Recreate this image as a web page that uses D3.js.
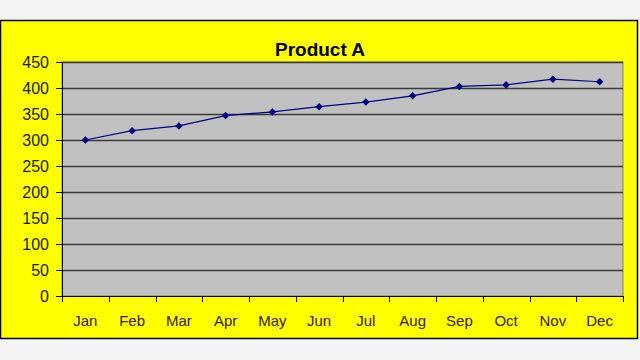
<!DOCTYPE html>
<html><head><meta charset="utf-8">
<script src="https://cdn.jsdelivr.net/npm/d3@7"></script>
<style>html,body{margin:0;padding:0;background:#f4f4f4;}</style>
</head><body>
<svg id="c" width="640" height="360"></svg>
<script>
const months = ["Jan","Feb","Mar","Apr","May","Jun","Jul","Aug","Sep","Oct","Nov","Dec"];
const values = [300,318,327,347,354,364,373,385,403,406,417,412];
const yTicks = [0,50,100,150,200,250,300,350,400,450];
const title = "Product A";

const svg = d3.select("#c");
const font = "Arial, 'Liberation Sans', sans-serif";
svg.append("rect").attr("x",0.5).attr("y",20.5).attr("width",637).attr("height",318)
  .attr("fill","#ffff00").attr("stroke","#000").attr("stroke-width",1.5);

const L=62,R=623,T=62,B=296;
const x = d3.scaleBand().domain(months).range([L,R]);
const y = d3.scaleLinear().domain([0,450]).range([B,T]);

svg.append("rect").attr("x",L).attr("y",T).attr("width",R-L).attr("height",B-T)
  .attr("fill","#c0c0c0").attr("stroke","#808080").attr("stroke-width",1);

svg.append("g").selectAll("line").data(yTicks.filter(d=>d>0)).join("line")
  .attr("x1",L).attr("x2",R).attr("y1",d=>Math.round(y(d))+0.5).attr("y2",d=>Math.round(y(d))+0.5)
  .attr("stroke","#3a3a3a").attr("stroke-width",1.5);

const ya = svg.append("g").attr("transform",`translate(${L},0)`)
  .call(d3.axisLeft(y).tickValues(yTicks).tickSize(6).tickPadding(7).tickSizeOuter(0));
ya.select(".domain").attr("stroke","#000");
ya.selectAll(".tick line").attr("stroke","#000");
ya.selectAll("text").attr("font-family",font).attr("font-size",16).attr("fill","#1a1a00");

const xa = svg.append("g").attr("transform",`translate(0,${B})`)
  .call(d3.axisBottom(x).tickSize(0).tickPadding(19));
xa.select(".domain").attr("stroke","#000");
xa.selectAll("text").attr("font-family",font).attr("font-size",15).attr("fill","#3a1a00");
svg.append("g").selectAll("line").data(months.map((m,i)=>i).concat([months.length])).join("line")
  .attr("x1",i=>Math.round(L+i*x.step())+0.5).attr("x2",i=>Math.round(L+i*x.step())+0.5)
  .attr("y1",B).attr("y2",B+6).attr("stroke","#000");

const pts = months.map((m,i)=>[x(m)+x.bandwidth()/2, y(values[i])]);
svg.append("path").attr("d",d3.line()(pts)).attr("fill","none").attr("stroke","#000080").attr("stroke-width",1.2);
svg.append("g").selectAll("path").data(pts).join("path")
  .attr("transform",d=>`translate(${d[0]},${d[1]})`)
  .attr("d",d3.symbol(d3.symbolDiamond2,36)).attr("fill","#000080");

svg.append("text").attr("x",320).attr("y",56).attr("text-anchor","middle")
  .attr("font-family",font).attr("font-weight","bold").attr("font-size",19).attr("fill","#000").text(title);
</script>
</body></html>
